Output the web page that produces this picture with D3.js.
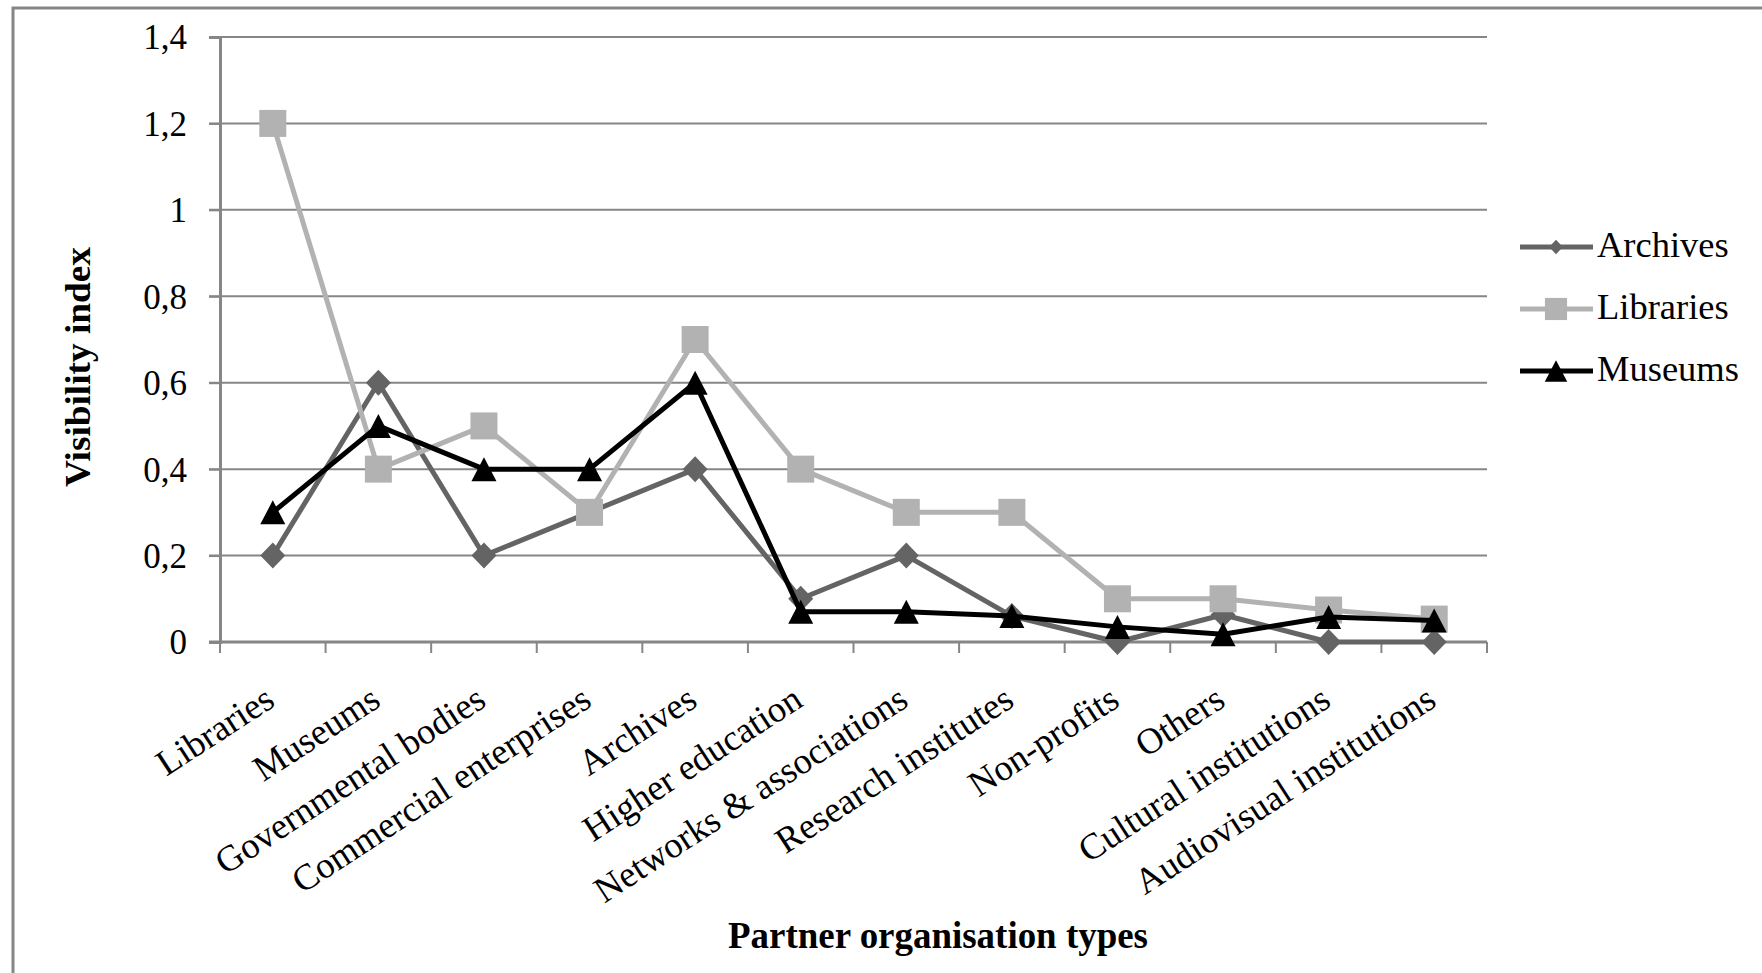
<!DOCTYPE html>
<html>
<head>
<meta charset="utf-8">
<script src="https://cdn.jsdelivr.net/npm/d3@7"></script>
<style>
  html, body { margin: 0; padding: 0; background: #fff; }
  svg { display: block; font-family: "Liberation Serif", "Times New Roman", serif; }
</style>
</head>
<body>
<svg id="chart" width="1762" height="973"></svg>
<script>
// ---- data ----
const categories = ["Libraries", "Museums", "Governmental bodies", "Commercial enterprises", "Archives",
  "Higher education", "Networks & associations", "Research institutes", "Non-profits", "Others",
  "Cultural institutions", "Audiovisual institutions"];
const archivesValues  = [0.2, 0.6, 0.2, 0.3, 0.4, 0.1, 0.2, 0.06, 0.0, 0.063, 0.0, 0.0];
const librariesValues = [1.2, 0.4, 0.5, 0.3, 0.7, 0.4, 0.3, 0.3, 0.1, 0.1, 0.074, 0.053];
const museumsValues   = [0.3, 0.5, 0.4, 0.4, 0.6, 0.07, 0.07, 0.06, 0.035, 0.018, 0.058, 0.05];
const seriesNames = ["Archives", "Libraries", "Museums"];
const yTickValues = [0, 0.2, 0.4, 0.6, 0.8, 1.0, 1.2, 1.4];
const yTickLabels = ["0", "0,2", "0,4", "0,6", "0,8", "1", "1,2", "1,4"];
const yTitle = "Visibility index";
const xTitle = "Partner organisation types";

(function () {
const series = [
  { name: seriesNames[0], values: archivesValues,  color: "#646464", marker: "diamond" },
  { name: seriesNames[1], values: librariesValues, color: "#b2b2b2", marker: "square" },
  { name: seriesNames[2], values: museumsValues,   color: "#000000", marker: "triangle" }
];

const svg = d3.select("#chart");
const axisColor = "#868686";

// outer frame
svg.append("path").attr("d", "M13,973 V8 H1762").attr("fill", "none")
  .attr("stroke", axisColor).attr("stroke-width", 3);

const pLeft = 220, pRight = 1487, pTop = 37, pBottom = 642;
const x = d3.scaleBand().domain(categories).range([pLeft, pRight]).paddingInner(0).paddingOuter(0);
const y = d3.scaleLinear().domain([0, 1.4]).range([pBottom, pTop]);
const cx = c => x(c) + x.bandwidth() / 2;

// gridlines
svg.append("g").selectAll("line").data(yTickValues.filter(v => v > 0)).join("line")
  .attr("x1", pLeft - 11).attr("x2", pRight)
  .attr("y1", d => y(d)).attr("y2", d => y(d))
  .attr("stroke", axisColor).attr("stroke-width", 2);

// y axis
const yAxis = d3.axisLeft(y).tickValues(yTickValues)
  .tickFormat((d, i) => yTickLabels[i]).tickSize(11).tickPadding(22);
const gy = svg.append("g").attr("transform", `translate(${pLeft},0)`).call(yAxis);
gy.select(".domain").attr("stroke", axisColor).attr("stroke-width", 3);
gy.selectAll(".tick line").attr("stroke", axisColor).attr("stroke-width", 2);
gy.selectAll(".tick text").attr("font-family", "Liberation Serif").attr("font-size", 35)
  .attr("fill", "#000").attr("dy", "0.34em");

// x axis
const xAxis = d3.axisBottom(x).tickSize(0).tickFormat("");
const gx = svg.append("g").attr("transform", `translate(0,${pBottom})`).call(xAxis);
gx.select(".domain").attr("stroke", axisColor).attr("stroke-width", 3)
  .attr("d", `M${pLeft - 11},0H${pRight}`);
gx.selectAll(".tick").remove();
// boundary ticks
const boundaries = categories.map(c => x(c)).concat([pRight]);
svg.append("g").selectAll("line").data(boundaries).join("line")
  .attr("x1", d => d).attr("x2", d => d).attr("y1", pBottom).attr("y2", pBottom + 11)
  .attr("stroke", axisColor).attr("stroke-width", 2);

// rotated category labels
svg.append("g").selectAll("text").data(categories).join("text")
  .attr("transform", c => `translate(${cx(c) + 4},${pBottom + 63}) rotate(-33)`)
  .attr("text-anchor", "end")
  .attr("font-size", 36.5).attr("fill", "#000")
  .text(c => c);

// axis titles
svg.append("text").attr("transform", `translate(90,367) rotate(-90)`)
  .attr("text-anchor", "middle").attr("font-weight", "bold").attr("font-size", 36)
  .attr("textLength", 240).attr("lengthAdjust", "spacingAndGlyphs")
  .text(yTitle);
svg.append("text").attr("x", 728).attr("y", 948)
  .attr("font-weight", "bold").attr("font-size", 37)
  .attr("textLength", 420).attr("lengthAdjust", "spacingAndGlyphs")
  .text(xTitle);

// marker shapes
function markerPath(type, s) {
  if (type === "diamond") {
    const w = 12.5 * s, h = 13 * s;
    return `M0,${-h}L${w},0L0,${h}L${-w},0Z`;
  } else if (type === "square") {
    const a = 13.5 * s;
    return `M${-a},${-a}H${a}V${a}H${-a}Z`;
  } else {
    const w = 12.5 * s, h = 12 * s;
    return `M0,${-h}L${w},${h}L${-w},${h}Z`;
  }
}

// series
const line = d3.line().x((d, i) => cx(categories[i])).y(d => y(d));
series.forEach(s => {
  const g = svg.append("g");
  g.append("path").datum(s.values).attr("d", line).attr("fill", "none")
    .attr("stroke", s.color).attr("stroke-width", 5).attr("stroke-linejoin", "round");
  g.selectAll("path.m").data(s.values).join("path").attr("class", "m")
    .attr("transform", (d, i) => `translate(${cx(categories[i])},${y(d)})`)
    .attr("d", markerPath(s.marker, 1)).attr("fill", s.color);
});

// legend
const legendY = [247, 309, 371];
const legendMarkerScale = { diamond: 0.55, square: 0.82, triangle: 0.9 };
series.forEach((s, i) => {
  const g = svg.append("g").attr("transform", `translate(0,${legendY[i]})`);
  g.append("line").attr("x1", 1520).attr("x2", 1593).attr("y1", 0).attr("y2", 0)
    .attr("stroke", s.color).attr("stroke-width", 5);
  g.append("path").attr("transform", "translate(1556,0)")
    .attr("d", markerPath(s.marker, legendMarkerScale[s.marker])).attr("fill", s.color);
  g.append("text").attr("x", 1597).attr("y", 10).attr("font-size", 36.5).attr("fill", "#000")
    .text(s.name);
});
})();
</script>
</body>
</html>
